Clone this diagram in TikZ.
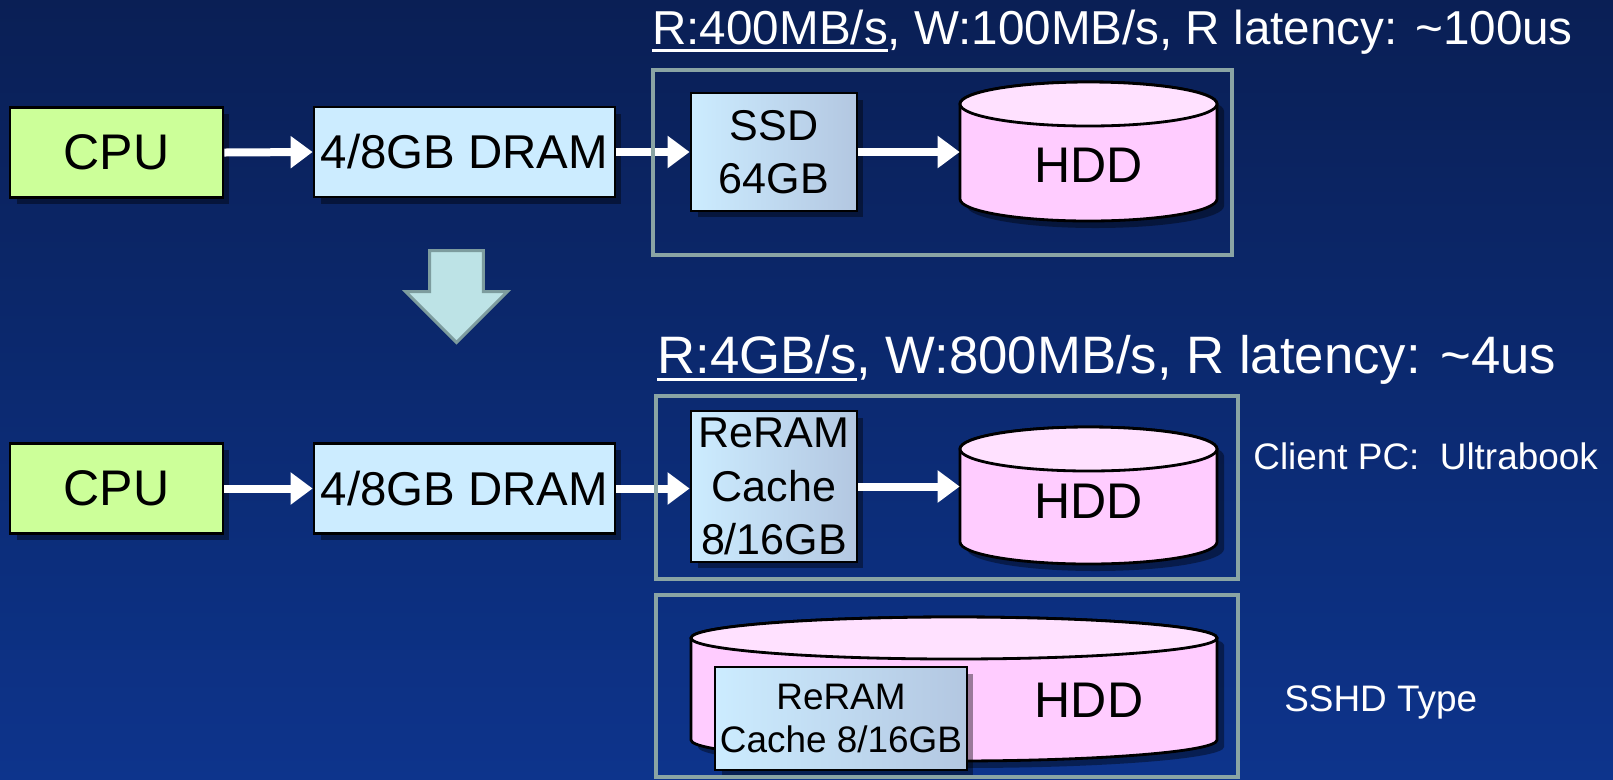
\documentclass[tikz,border=0pt]{standalone}
\usepackage{fontspec}
\setmainfont{Liberation Sans}
\usetikzlibrary{shapes.arrows,shadows,arrows.meta}

\definecolor{bgtop}{HTML}{0A1F55}
\definecolor{bgbot}{HTML}{0D348C}
\definecolor{cpugreen}{HTML}{CCFF99}
\definecolor{dramblue}{HTML}{CCECFF}
\definecolor{cacheleft}{HTML}{CCECFF}
\definecolor{cacheright}{HTML}{B3C7E1}
\definecolor{hddpink}{HTML}{FFCCFF}
\definecolor{hddtop}{HTML}{FFE1FF}
\definecolor{framegray}{HTML}{8AA4A4}
\definecolor{downfill}{HTML}{BDE3E6}
\definecolor{downline}{HTML}{7D9C9E}

\newsavebox{\ulbox}
\newcommand{\ulined}[1]{\sbox{\ulbox}{#1}\rlap{\rule[-0.155cm]{\wd\ulbox}{0.065cm}}#1}

% disk: centre x, top y, half width, bottom y, end radius
\newcommand{\disk}[5]{%
    \path[diskshade] ({#1-#3},{#2+#5}) -- ({#1-#3},{#4-#5})
        arc[start angle=180, end angle=0, x radius=#3, y radius=#5]
        -- ({#1+#3},{#2+#5}) arc[start angle=0, end angle=-180, x radius=#3, y radius=#5] -- cycle;
    \path[diskbody] ({#1-#3},{#2+#5}) -- ({#1-#3},{#4-#5})
        arc[start angle=180, end angle=0, x radius=#3, y radius=#5]
        -- ({#1+#3},{#2+#5}) arc[start angle=0, end angle=-180, x radius=#3, y radius=#5] -- cycle;
    \path[disktop] (#1,{#2+#5}) ellipse[x radius=#3, y radius=#5];
}

\begin{document}
\begin{tikzpicture}[x=0.02cm, y=-0.02cm,
    blk/.style={draw=black, line width=1.6pt, inner sep=0pt, align=center,
        drop shadow={shadow xshift=0.13cm, shadow yshift=-0.13cm, fill=black, opacity=0.4}},
    cpubox/.style={blk, fill=cpugreen, minimum width=4.26cm, minimum height=1.8cm,
        font=\fontsize{28.5}{34}\selectfont},
    drambox/.style={blk, fill=dramblue, minimum width=6.02cm, minimum height=1.8cm,
        font=\fontsize{27}{32}\selectfont},
    cachebox/.style={blk, left color=cacheleft, right color=cacheright,
        font=\fontsize{24.5}{30.5}\selectfont},
    diskshade/.style={fill=black, opacity=0.4, shift={(7,7)}},
    diskbody/.style={fill=hddpink, draw=black, line width=1.6pt},
    disktop/.style={fill=hddtop, draw=black, line width=1.6pt},
    hddtext/.style={inner sep=0pt, font=\fontsize{28.5}{34}\selectfont},
    flow/.style={draw=white, line width=0.16cm, -{Triangle[length=0.44cm, width=0.62cm]}},
    frame/.style={draw=framegray, line width=0.08cm},
    note/.style={text=white, inner sep=0pt, anchor=west, font=\fontsize{21}{25}\selectfont},
    title/.style={text=white, inner sep=0pt, anchor=base west}]

    \shade[top color=bgtop, bottom color=bgbot] (0,0) rectangle (1613,779);
    \useasboundingbox (0,0) rectangle (1613,779);

    \node[title, font=\fontsize{27.1}{32}\selectfont] (rateA) at (652,44) {\ulined{R:400MB/s}, W:100MB/s, R latency: \textasciitilde100us};
    \node[title, font=\fontsize{30}{35}\selectfont] (rateB) at (657,373) {\ulined{R:4GB/s}, W:800MB/s, R latency: \textasciitilde4us};

    \node[cpubox] (cpuA) at (116.5,152.5) {CPU};
    \node[drambox] (dramA) at (464.5,152) {4/8GB DRAM};
    \node[cachebox, minimum width=3.32cm, minimum height=2.36cm] (ssd) at (774,152) {SSD\\64GB};
    \disk{1088.5}{82}{128.5}{221}{22}
    \node[hddtext, minimum width=5.14cm] (hddA) at (1088.5,165) {HDD};

    \node[single arrow, rotate=-90, draw=downline, fill=downfill, line width=0.06cm,
        inner xsep=0pt, inner ysep=0.51cm, minimum height=1.84cm,
        single arrow head extend=0.48cm] (down) at (456.5,283) {};

    \node[cpubox] (cpuB) at (116.5,488.5) {CPU};
    \node[drambox] (dramB) at (464.5,488.5) {4/8GB DRAM};
    \node[cachebox, minimum width=3.32cm, minimum height=3.02cm] (reram) at (774,486.5) {ReRAM\\Cache\\8/16GB};
    \disk{1088.5}{427}{128.5}{564}{22}
    \node[hddtext, minimum width=5.14cm] (hddB) at (1088.5,501) {HDD};

    \disk{954}{617}{263}{761}{21}
    \node[hddtext] (hddC) at (1089,700) {HDD};
    \node[cachebox, minimum width=5.04cm, minimum height=2.06cm, font=\fontsize{21}{24.4}\selectfont] (sshd) at (841,718.5) {ReRAM\\Cache 8/16GB};

    \node[note] (client) at (1253,456) {Client PC:\ \ Ultrabook};
    \node[note] (sshdtype) at (1284,702) {SSHD Type};

    \draw[flow] (cpuA.east) -- (dramA.west);
    \draw[flow] (dramA.east) -- (ssd.west);
    \draw[flow] (ssd.east) -- (ssd.east -| hddA.west);
    \draw[flow] (cpuB.east) -- (dramB.west);
    \draw[flow] (dramB.east) -- (dramB.east -| reram.west);
    \draw[flow] (reram.east) -- (reram.east -| hddB.west);

    \draw[frame] (653,70) rectangle (1232,255);
    \draw[frame] (656,396) rectangle (1238,579);
    \draw[frame] (656,595) rectangle (1238,777);
\end{tikzpicture}
\end{document}
